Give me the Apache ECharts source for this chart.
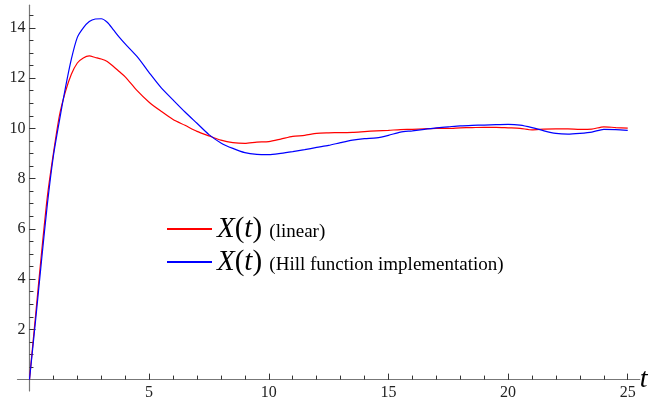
<!DOCTYPE html>
<html>
<head>
<meta charset="utf-8">
<script src="https://cdn.jsdelivr.net/npm/echarts@6/dist/echarts.min.js"></script>
<style>
	html,body{margin:0;padding:0;background:#fff;}
	#chart{width:655px;height:403px;}
</style>
</head>
<body>
<div id="chart"></div>
<script>
var times = [0,0.25,0.5,0.75,1,1.25,1.5,1.75,2,2.25,2.5,2.75,3,3.25,3.5,3.75,4,4.5,5,5.5,6,6.5,7,7.5,8,8.5,9,9.5,10,10.5,11,11.5,12,12.5,13,13.5,14,14.5,15,15.5,16,16.5,17,17.5,18,18.5,19,19.5,20,20.5,21,21.5,22,22.5,23,23.5,24,24.5,25];
var linearX = [0,2.5,5.0,7.3,9.0,10.5,11.45,12.15,12.6,12.8,12.88,12.82,12.76,12.66,12.47,12.26,12.05,11.5,11.04,10.68,10.35,10.12,9.88,9.7,9.53,9.43,9.4,9.45,9.47,9.57,9.68,9.72,9.8,9.82,9.83,9.84,9.87,9.9,9.92,9.95,9.96,9.98,10.0,10.0,10.02,10.03,10.04,10.04,10.02,10.0,9.94,9.97,9.98,9.98,9.96,9.97,10.06,10.03,10.01];
var hillX = [0,2.3,4.7,7.0,8.9,10.3,11.6,12.75,13.62,14.0,14.25,14.35,14.36,14.22,13.93,13.63,13.36,12.85,12.22,11.62,11.13,10.65,10.2,9.75,9.42,9.2,9.03,8.96,8.95,9.0,9.07,9.15,9.24,9.32,9.43,9.53,9.59,9.62,9.72,9.85,9.9,9.96,10.02,10.06,10.1,10.12,10.13,10.15,10.16,10.13,10.03,9.9,9.8,9.77,9.8,9.85,9.96,9.95,9.92];

var xMajorTicks = [5,10,15,20,25];
var xMinorTicks = [1,2,3,4,5,6,7,8,9,10,11,12,13,14,15,16,17,18,19,20,21,22,23,24,25];
var yMajorTicks = [2,4,6,8,10,12,14];
var yMinorTicks = [0.5,1,1.5,2,2.5,3,3.5,4,4.5,5,5.5,6,6.5,7,7.5,8,8.5,9,9.5,10,10.5,11,11.5,12,12.5,13,13.5,14,14.5];

var seriesNames = ['X(t) (linear)','X(t) (Hill function implementation)'];
var legendNotes = ['(linear)','(Hill function implementation)'];

function pairs(xs, ys){
	var out = [];
	for(var i=0;i<xs.length;i++){ out.push([xs[i], ys[i]]); }
	return out;
}

var serif = '"Liberation Serif","DejaVu Serif",serif';
var chart = echarts.init(document.getElementById('chart'), null, {renderer:'canvas'});

function xAxisBase(){
	return {
		type:'value', position:'bottom', min:-0.5, max:25.5,
		splitLine:{show:false},
		axisLine:{onZero:true, onZeroAxisIndex:0, lineStyle:{color:'#777', width:1.2}}
	};
}
function yAxisBase(){
	return {
		type:'value', position:'left', min:-0.45, max:14.9,
		splitLine:{show:false},
		axisLine:{onZero:true, onZeroAxisIndex:0, lineStyle:{color:'#777', width:1.2}}
	};
}

var xMinor = xAxisBase();
xMinor.axisTick = {inside:true, length:4, customValues:xMinorTicks, lineStyle:{color:'#333'}};
xMinor.axisLabel = {show:false};
xMinor.name = 't';
xMinor.nameLocation = 'end';
xMinor.nameGap = 0;
xMinor.nameTextStyle = {fontFamily:serif, fontStyle:'italic', fontSize:28, color:'#000', verticalAlign:'middle', padding:[2,0,0,0]};

// second axes carry the longer ticks and the labels; shifted onto the zero line
var xMajor = xAxisBase();
xMajor.axisLine = {show:false, onZero:false};
xMajor.offset = -11.3;
xMajor.axisTick = {inside:true, length:6, customValues:xMajorTicks, lineStyle:{color:'#333'}};
xMajor.axisLabel = {customValues:xMajorTicks, margin:5, fontFamily:serif, fontSize:16, color:'#222'};

var yMinor = yAxisBase();
yMinor.axisTick = {inside:true, length:4, customValues:yMinorTicks, lineStyle:{color:'#333'}};
yMinor.axisLabel = {show:false};

var yMajor = yAxisBase();
yMajor.axisLine = {show:false, onZero:false};
yMajor.offset = -12;
yMajor.axisTick = {inside:true, length:6, customValues:yMajorTicks, lineStyle:{color:'#333'}};
yMajor.axisLabel = {customValues:yMajorTicks, margin:4, fontFamily:serif, fontSize:16, color:'#222'};

var option = {
	animation:false,
	backgroundColor:'#fff',
	grid:{left:17.5, right:15.3, top:5.2, bottom:12.1, containLabel:false, outerBoundsMode:'none'},
	legend:{
		orient:'vertical', left:167, top:215, padding:0, icon:'rect',
		itemWidth:45, itemHeight:2, itemGap:4,
		data:seriesNames,
		formatter:function(name){
			var note = legendNotes[seriesNames.indexOf(name)];
			return '{x|X}{p|(}{x|t}{p|) }{s|' + note + '}';
		},
		textStyle:{
			color:'#000',
			rich:{
				x:{fontFamily:serif, fontStyle:'italic', fontSize:29, lineHeight:30, verticalAlign:'bottom', color:'#000'},
				p:{fontFamily:serif, fontSize:29, lineHeight:30, verticalAlign:'bottom', color:'#000'},
				s:{fontFamily:serif, fontSize:19, lineHeight:30, verticalAlign:'bottom', padding:[0,0,2,0], color:'#000'}
			}
		}
	},
	xAxis:[xMinor, xMajor],
	yAxis:[yMinor, yMajor],
	series:[
		{
			name:seriesNames[0], type:'line', xAxisIndex:0, yAxisIndex:0,
			data:pairs(times, linearX), showSymbol:false, symbol:'none', smooth:0.25,
			lineStyle:{color:'#ff0000', width:1.2}, itemStyle:{color:'#ff0000'}
		},
		{
			name:seriesNames[1], type:'line', xAxisIndex:0, yAxisIndex:0,
			data:pairs(times, hillX), showSymbol:false, symbol:'none', smooth:0.25,
			lineStyle:{color:'#0000ff', width:1.2}, itemStyle:{color:'#0000ff'}
		}
	]
};
chart.setOption(option);
</script>
</body>
</html>
